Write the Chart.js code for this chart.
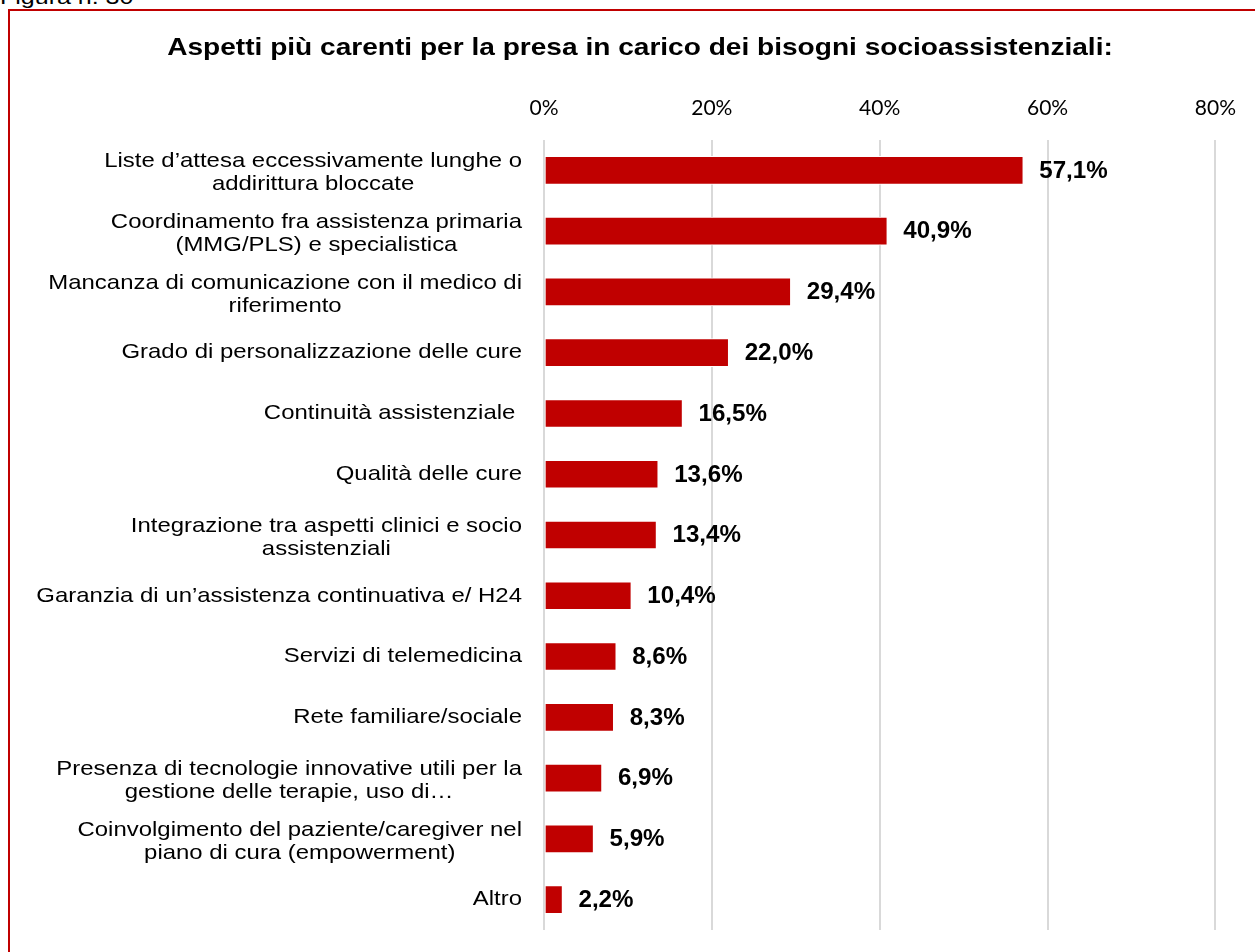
<!DOCTYPE html>
<html>
<head>
<meta charset="utf-8">
<script src="https://cdn.jsdelivr.net/npm/chart.js@4/dist/chart.umd.min.js"></script>
<style>
  html, body { margin: 0; padding: 0; background: #fff; overflow: hidden; }
  #frame {
    position: absolute; left: 8px; top: 9px; width: 1300px; height: 1000px;
    border: 2px solid #c00000;
  }
  #fig {
    position: absolute; left: 0; top: -13px;
    font: 20px/20px 'Liberation Sans', Arial, sans-serif; color: #000;
    transform: scaleX(1.25); transform-origin: 0 0;
  }
  #wrap { position: absolute; left: 0; top: 0; width: 1255px; height: 952px; }
</style>
</head>
<body>
<div id="fig">Figura n. 30</div>
<div id="frame"></div>
<div id="wrap"><canvas id="chart"></canvas></div>
<script>
const chartTitle = 'Aspetti più carenti per la presa in carico dei bisogni socioassistenziali:';

const categories = [
    ['Liste d’attesa eccessivamente lunghe o', 'addirittura bloccate'],
    ['Coordinamento fra assistenza primaria', '(MMG/PLS) e specialistica'],
    ['Mancanza di comunicazione con il medico di', 'riferimento'],
    ['Grado di personalizzazione delle cure'],
    ['Continuità assistenziale '],
    ['Qualità delle cure'],
    ['Integrazione tra aspetti clinici e socio', 'assistenziali'],
    ['Garanzia di un’assistenza continuativa e/ H24'],
    ['Servizi di telemedicina'],
    ['Rete familiare/sociale'],
    ['Presenza di tecnologie innovative utili per la', 'gestione delle terapie, uso di…'],
    ['Coinvolgimento del paziente/caregiver nel', 'piano di cura (empowerment)'],
    ['Altro']
];

const percentages = [57.1, 40.9, 29.4, 22.0, 16.5, 13.6, 13.4, 10.4, 8.6, 8.3, 6.9, 5.9, 2.2];

const xTicks = [0, 20, 40, 60, 80];

const barColor = '#c00000';
const arial = "'Liberation Sans', Arial, sans-serif";

// the source picture is a bit wide, so text gets stretched horizontally
function wideText(ctx, text, x, y, sx) {
    ctx.save();
    ctx.translate(x, y);
    ctx.scale(sx, 1);
    ctx.fillText(text, 0, 0);
    ctx.restore();
}

// title, category labels (centred multi-line blocks) and value labels
const annotate = {
    id: 'annotate',
    afterDraw(chart) {
        const ctx = chart.ctx;
        const x = chart.scales.x;
        const y = chart.scales.y;
        ctx.save();
        ctx.fillStyle = '#000';
        ctx.textBaseline = 'middle';

        ctx.font = 'bold 24px ' + arial;
        ctx.textAlign = 'center';
        wideText(ctx, chartTitle, 640, 48, 1.17);

        ctx.font = '21px ' + arial;
        const sx = 1.14;
        const lineH = 23;
        categories.forEach((lines, i) => {
            const cy = y.getPixelForValue(i) + (lines.length > 1 ? 2.5 : 0);
            const w = Math.max(...lines.map(l => ctx.measureText(l).width)) * sx;
            const cx = x.left - 22 - w / 2;
            const y0 = cy - (lines.length - 1) * lineH / 2;
            lines.forEach((l, k) => wideText(ctx, l, cx, y0 + k * lineH, sx));
        });

        ctx.font = 'bold 23px ' + arial;
        ctx.textAlign = 'left';
        percentages.forEach((v, i) => {
            const px = x.getPixelForValue(v);
            wideText(ctx, v.toFixed(1).replace('.', ',') + '%', px + 16, y.getPixelForValue(i) + 1, 1.05);
        });
        ctx.restore();
    }
};

const ctx = document.getElementById('chart').getContext('2d');
new Chart(ctx, {
    type: 'bar',
    data: {
        labels: categories,
        datasets: [{
            data: percentages,
            backgroundColor: barColor,
            borderColor: '#ffffff',
            borderWidth: 1,
            borderSkipped: false,
            barThickness: 28
        }]
    },
    options: {
        indexAxis: 'y',
        responsive: true,
        maintainAspectRatio: false,
        animation: false,
        layout: { padding: { left: 0, right: 34, top: 0, bottom: 22 } },
        plugins: {
            legend: { display: false },
            tooltip: { enabled: false },
            title: { display: false }
        },
        scales: {
            x: {
                position: 'top',
                min: 0,
                max: 80,
                afterBuildTicks: s => { s.ticks = xTicks.map(v => ({ value: v })); },
                afterFit: s => { s.height = 140; },
                grid: { color: '#d9d9d9', lineWidth: 2, drawTicks: false },
                border: { display: false },
                ticks: {
                    color: '#000',
                    padding: 19,
                    font: { family: 'Lato', size: 21 },
                    callback: v => v + '%'
                }
            },
            y: {
                afterFit: s => { s.width = 544; },
                grid: { display: false },
                border: { display: false },
                ticks: { display: false }
            }
        }
    },
    plugins: [annotate]
});
</script>
</body>
</html>
